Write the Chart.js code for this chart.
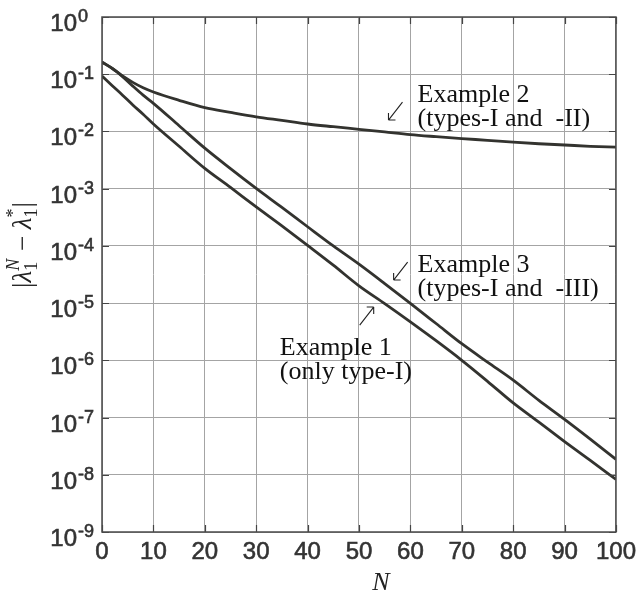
<!DOCTYPE html>
<html>
<head>
<meta charset="utf-8">
<script src="https://cdn.jsdelivr.net/npm/chart.js@4.4.0/dist/chart.umd.min.js"></script>
<style>
  body { margin: 0; background: #fff; }
  #wrap { width: 642px; height: 595px; }
</style>
</head>
<body>
<div id="wrap"><canvas id="myChart" width="642" height="595"></canvas></div>
<script>
// N values (x) shared by all three curves
var nValues = [0, 2, 4, 6, 8, 10, 15, 20, 25, 30, 35, 40, 45, 50, 55, 60, 65, 70, 75, 80, 85, 90, 95, 100];

// |lambda_1^N - lambda_1^*|
var example1 = [0.093, 0.063, 0.043, 0.029, 0.020, 0.0135, 0.0055, 0.00226, 1.05e-3, 4.8e-4, 2.24e-4, 1.02e-4,
                4.6e-5, 2.0e-5, 9.8e-6, 4.7e-6, 2.2e-6, 1.0e-6, 4.3e-7, 1.8e-7, 8.3e-8, 3.8e-8, 1.78e-8, 8.3e-9];
var example2 = [0.163, 0.126, 0.093, 0.072, 0.058, 0.049, 0.035, 0.026, 0.0215, 0.018, 0.0156, 0.0135,
                0.0121, 0.0109, 0.0098, 0.0088, 0.0081, 0.0075, 0.0070, 0.0065, 0.0061, 0.0058, 0.0055, 0.0053];
var example3 = [0.163, 0.126, 0.091, 0.062, 0.043, 0.031, 0.0126, 0.0051, 0.00224, 0.00101, 4.7e-4, 2.16e-4,
                1.0e-4, 4.8e-5, 2.2e-5, 9.9e-6, 4.4e-6, 1.95e-6, 9.3e-7, 4.5e-7, 2.0e-7, 9.3e-8, 4.2e-8, 1.86e-8];

// axis ticks
var xTicks = [0, 10, 20, 30, 40, 50, 60, 70, 80, 90, 100];
var yTicks = [1, 1e-1, 1e-2, 1e-3, 1e-4, 1e-5, 1e-6, 1e-7, 1e-8, 1e-9];
var yTickExp = ['0', '-1', '-2', '-3', '-4', '-5', '-6', '-7', '-8', '-9'];

// annotation texts and where they sit (data coords of the first line's left baseline)
var noteLines = [['Example 2', '(types-I and  -II)'], ['Example 3', '(types-I and  -III)'], ['Example 1', '(only type-I)']];
var noteAt = [[61.4, 0.0331], [61.4, 3.49e-5], [34.6, 1.24e-6]];
// arrow centres (data coords) and direction: -1 = pointing down-left, 1 = pointing up-right
var arrowAt = [[57.1, 0.0227], [58.1, 3.63e-5], [51.5, 5.94e-6]];
var arrowDir = [-1, -1, 1];

function pts(ys) {
  return nValues.map(function (n, i) { return { x: n, y: ys[i] }; });
}

var lineColor = '#33332f';
var textColor = '#333333';

function drawArrow(ctx, cx, cy, dir) {
  // thin LaTeX-like diagonal arrow, head at the end it points to
  var dx = 7 * dir, dy = -9 * dir;
  var hx = cx + dx, hy = cy + dy;
  ctx.beginPath();
  ctx.moveTo(cx - dx, cy - dy);
  ctx.lineTo(hx, hy);
  // head strokes
  ctx.moveTo(hx, hy);
  ctx.lineTo(hx - 7 * dir, hy);
  ctx.moveTo(hx, hy);
  ctx.lineTo(hx, hy + 7 * dir);
  ctx.stroke();
}

var decor = {
  id: 'decor',
  afterDraw: function (chart) {
    var ctx = chart.ctx, a = chart.chartArea, x = chart.scales.x, y = chart.scales.y;
    ctx.save();
    // inward tick marks on all four sides
    ctx.strokeStyle = '#444';
    ctx.lineWidth = 1.2;
    ctx.beginPath();
    xTicks.forEach(function (v) {
      var px = Math.round(x.getPixelForValue(v)) + 0.5;
      ctx.moveTo(px, a.bottom); ctx.lineTo(px, a.bottom - 7);
      ctx.moveTo(px, a.top); ctx.lineTo(px, a.top + 7);
    });
    yTicks.forEach(function (v) {
      var py = Math.round(y.getPixelForValue(v)) + 0.5;
      ctx.moveTo(a.left, py); ctx.lineTo(a.left + 7, py);
      ctx.moveTo(a.right, py); ctx.lineTo(a.right - 7, py);
    });
    ctx.stroke();
    // frame
    ctx.strokeStyle = '#4a4a4a';
    ctx.lineWidth = 1.5;
    ctx.strokeRect(a.left, a.top, a.right - a.left, a.bottom - a.top);

    // y tick labels 10^k
    ctx.fillStyle = textColor;
    ctx.strokeStyle = textColor;
    ctx.lineWidth = 0.6;
    ctx.textBaseline = 'alphabetic';
    yTicks.forEach(function (v, i) {
      var gy = y.getPixelForValue(v);
      ctx.font = '24px "Liberation Sans"';
      ctx.textAlign = 'right';
      ctx.fillText('10', 77, gy + 14);
      ctx.strokeText('10', 77, gy + 14);
      ctx.font = '18px "Liberation Sans"';
      ctx.textAlign = 'left';
      ctx.fillText(yTickExp[i], 78, gy + 5);
      ctx.strokeText(yTickExp[i], 78, gy + 5);
    });

    // x axis title
    ctx.font = 'italic 26px "Liberation Serif"';
    ctx.textAlign = 'center';
    ctx.fillStyle = '#222';
    ctx.fillText('N', 381, 590);

    // y axis title |λ1^N − λ1^*|
    var big = '27px "Liberation Serif"', bigIt = 'italic 27px "Liberation Serif"';
    var small = '18px "Liberation Serif"', smallIt = 'italic 18px "Liberation Serif"';
    var segs = [
      { t: '|', f: big },
      { t: '\u03bb', f: bigIt },
      { sub: '1', sup: 'N', supF: smallIt },
      { t: ' \u2212 ', f: big },
      { t: '\u03bb', f: bigIt },
      { sub: '1', sup: '*', supF: small },
      { t: '|', f: big }
    ];
    var widths = segs.map(function (s) {
      if (s.t) { ctx.font = s.f; return ctx.measureText(s.t).width; }
      ctx.font = small; var w1 = ctx.measureText(s.sub).width;
      ctx.font = s.supF; var w2 = ctx.measureText(s.sup).width;
      return Math.max(w1, w2) + 1;
    });
    var total = widths.reduce(function (p, c) { return p + c; }, 0);
    ctx.translate(31, 245);
    ctx.rotate(-Math.PI / 2);
    ctx.textAlign = 'left';
    var u = -total / 2;
    segs.forEach(function (s, i) {
      if (s.t) {
        ctx.font = s.f; ctx.fillText(s.t, u, 0);
      } else {
        ctx.font = small; ctx.fillText(s.sub, u, 6);
        ctx.font = s.supF; ctx.fillText(s.sup, u, -12);
      }
      u += widths[i];
    });
    ctx.restore();

    // annotations
    ctx.save();
    ctx.fillStyle = '#111';
    ctx.strokeStyle = '#222';
    ctx.lineWidth = 1.1;
    ctx.textAlign = 'left';
    ctx.textBaseline = 'alphabetic';
    ctx.font = '26px "Liberation Serif"';
    noteLines.forEach(function (lines, i) {
      var px = x.getPixelForValue(noteAt[i][0]);
      var py = y.getPixelForValue(noteAt[i][1]);
      lines.forEach(function (s, k) { ctx.fillText(s, px, py + k * 24); });
      drawArrow(ctx, x.getPixelForValue(arrowAt[i][0]), y.getPixelForValue(arrowAt[i][1]), arrowDir[i]);
    });
    ctx.restore();
  }
};

function ds(label, ys) {
  return {
    label: label,
    data: pts(ys),
    borderColor: lineColor,
    borderWidth: 2.8,
    pointRadius: 0,
    fill: false,
    cubicInterpolationMode: 'monotone'
  };
}

new Chart(document.getElementById('myChart'), {
  type: 'line',
  data: {
    datasets: [ds('Example 1', example1), ds('Example 2', example2), ds('Example 3', example3)]
  },
  options: {
    responsive: false,
    animation: false,
    layout: { padding: { top: 17, right: 25, left: 0, bottom: 0 } },
    plugins: { legend: { display: false }, tooltip: { enabled: false } },
    scales: {
      x: {
        type: 'linear',
        min: 0,
        max: 100,
        afterBuildTicks: function (s) { s.ticks = xTicks.map(function (v) { return { value: v }; }); },
        afterFit: function (s) { s.height = 63; },
        ticks: {
          color: textColor,
          textStrokeColor: textColor,
          textStrokeWidth: 0.6,
          font: { family: 'Liberation Sans', size: 24 },
          padding: 6,
          maxRotation: 0,
          autoSkip: false
        },
        grid: { color: '#a4a4a4', lineWidth: 1, drawTicks: false },
        border: { display: false }
      },
      y: {
        type: 'logarithmic',
        min: 1e-9,
        max: 1,
        afterBuildTicks: function (s) { s.ticks = yTicks.map(function (v) { return { value: v }; }); },
        afterFit: function (s) { s.width = 102; },
        ticks: { display: false },
        grid: { color: '#a4a4a4', lineWidth: 1, drawTicks: false },
        border: { display: false }
      }
    }
  },
  plugins: [decor]
});
</script>
</body>
</html>
